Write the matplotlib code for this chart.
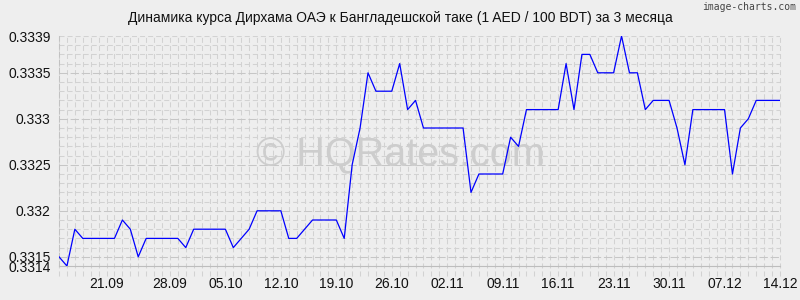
import matplotlib
matplotlib.use("Agg")
import matplotlib.pyplot as plt
import numpy as np

plt.rcParams['font.family'] = ['Liberation Sans', 'DejaVu Sans']
plt.rcParams['lines.scale_dashes'] = False

title = "Динамика курса Дирхама ОАЭ к Бангладешской таке (1 AED / 100 BDT) за 3 месяца"

values = [
    0.3315, 0.3314, 0.3318, 0.3317, 0.3317, 0.3317, 0.3317, 0.3317, 0.3319, 0.3318,
    0.3315, 0.3317, 0.3317, 0.3317, 0.3317, 0.3317, 0.3316, 0.3318, 0.3318, 0.3318,
    0.3318, 0.3318, 0.3316, 0.3317, 0.3318, 0.3320, 0.3320, 0.3320, 0.3320, 0.3317,
    0.3317, 0.3318, 0.3319, 0.3319, 0.3319, 0.3319, 0.3317, 0.3325, 0.3329, 0.3335,
    0.3333, 0.3333, 0.3333, 0.3336, 0.3331, 0.3332, 0.3329, 0.3329, 0.3329, 0.3329,
    0.3329, 0.3329, 0.3322, 0.3324, 0.3324, 0.3324, 0.3324, 0.3328, 0.3327, 0.3331,
    0.3331, 0.3331, 0.3331, 0.3331, 0.3336, 0.3331, 0.3337, 0.3337, 0.3335, 0.3335,
    0.3335, 0.3339, 0.3335, 0.3335, 0.3331, 0.3332, 0.3332, 0.3332, 0.3329, 0.3325,
    0.3331, 0.3331, 0.3331, 0.3331, 0.3331, 0.3324, 0.3329, 0.3330, 0.3332, 0.3332,
    0.3332, 0.3332,
]

xtick_pos = [6, 14, 21, 28, 35, 42, 49, 56, 63, 70, 77, 84, 91]
xtick_labels = ["21.09", "28.09", "05.10", "12.10", "19.10", "26.10", "02.11",
                "09.11", "16.11", "23.11", "30.11", "07.12", "14.12"]

ytick_vals = [0.3314, 0.3315, 0.332, 0.3325, 0.333, 0.3335, 0.3339]
ytick_labels = ["0.3314", "0.3315", "0.332", "0.3325", "0.333", "0.3335", "0.3339"]

bg = "#eeeeee"
fig = plt.figure(figsize=(8, 3), dpi=100, facecolor=bg)
ax = fig.add_axes([59/800, 34/300, 721/800, 230/300])
ax.set_facecolor(bg)

x = np.arange(len(values))
ymin, ymax = 0.3314, 0.3339
yr = ymax - ymin

grid_c = "#d2d2d2"
dash = (0, (3.6, 2.2))
# vertical grid, extending a little below the plot
ax.vlines(x, ymin - 0.045 * yr, ymax, colors=grid_c, lw=0.75, linestyles=dash,
          clip_on=False, zorder=1)
# horizontal grid
for yv in np.arange(3314, 3340) / 10000.0:
    major = any(abs(yv - t) < 1e-9 for t in [0.3315, 0.332, 0.3325, 0.333, 0.3335])
    ax.axhline(yv, color="#c6c6c6" if major else grid_c, lw=0.75,
               ls=(0, (6, 2)) if major else dash, zorder=1)

# watermark
ax.text(0.474, 0.48, "© HQRates.com", transform=ax.transAxes, fontsize=28.5,
        color="#cdcdcd", ha="center", va="center", zorder=2)

ax.plot(x, values, color="#0000ff", lw=0.9, zorder=3)

ax.set_xlim(0, len(values) - 1)
ax.set_ylim(ymin, ymax)
ax.set_xticks(xtick_pos)
ax.set_xticklabels(xtick_labels)
ax.set_yticks(ytick_vals)
ax.set_yticklabels(ytick_labels)
ax.tick_params(axis="both", length=0, labelsize=10, colors="#111111")
ax.tick_params(axis="x", pad=8)
ax.tick_params(axis="y", pad=6)

for s in ["top", "right"]:
    ax.spines[s].set_visible(False)
ax.spines["left"].set_color("#c2c2c2")
ax.spines["left"].set_linewidth(0.75)
ax.spines["left"].set_linestyle((0, (3.6, 2.2)))
ax.spines["bottom"].set_color("#bdbdbd")
ax.spines["bottom"].set_linewidth(0.8)

fig.text(400/800, 1 - 18/300, title, ha="center", va="center", fontsize=10, color="#111111")
fig.text(796/800, 1 - 7/300, "image-charts.com", ha="right", va="center",
         fontsize=7, color="#444444", family="DejaVu Sans Mono")

fig.savefig("out.png", dpi=100, facecolor=bg)
